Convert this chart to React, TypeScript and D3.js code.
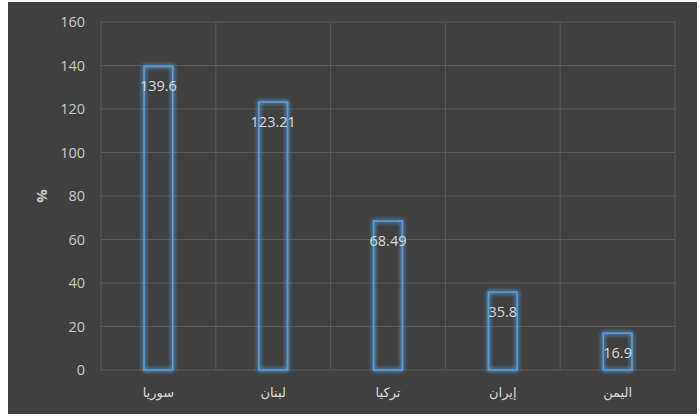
import { useEffect, useRef } from 'react';
import * as d3 from 'd3';

const countries = ['سوريا', 'لبنان', 'تركيا', 'إيران', 'اليمن'];
const values = [139.6, 123.21, 68.49, 35.8, 16.9];
const yTicks = [0, 20, 40, 60, 80, 100, 120, 140, 160];

const W = 700;
const H = 417;
const margin = { left: 101, right: 25, top: 22, bottom: 47 };
const FONT = '"Open Sans", "DejaVu Sans", sans-serif';

export default function App() {
  const svgRef = useRef<SVGSVGElement>(null);

  useEffect(() => {
    if (!svgRef.current) return;
    const svg = d3.select(svgRef.current);
    svg.selectAll('*').remove();

    const x = d3.scaleBand<string>()
      .domain(countries)
      .range([margin.left, W - margin.right])
      .paddingInner(0)
      .paddingOuter(0);
    const y = d3.scaleLinear().domain([0, 160]).range([H - margin.bottom, margin.top]);

    // glow filter
    const defs = svg.append('defs');
    const f = defs.append('filter').attr('id', 'glow').attr('x', '-50%').attr('y', '-50%').attr('width', '200%').attr('height', '200%');
    f.append('feGaussianBlur').attr('in', 'SourceGraphic').attr('stdDeviation', 2.2).attr('result', 'blur');
    const merge = f.append('feMerge');
    merge.append('feMergeNode').attr('in', 'blur');
    merge.append('feMergeNode').attr('in', 'blur');
    merge.append('feMergeNode').attr('in', 'SourceGraphic');

    // background panel
    svg.append('rect')
      .attr('x', 8).attr('y', 2)
      .attr('width', 689).attr('height', 412)
      .attr('fill', '#404040');

    // horizontal grid
    svg.append('g')
      .selectAll('line')
      .data(yTicks)
      .enter()
      .append('line')
      .attr('x1', margin.left)
      .attr('x2', W - margin.right)
      .attr('y1', (d) => y(d))
      .attr('y2', (d) => y(d))
      .attr('stroke', '#595959')
      .attr('stroke-width', 1);

    // vertical grid at band edges
    const edges = countries.map((c) => x(c) ?? 0).concat([W - margin.right]);
    svg.append('g')
      .selectAll('line')
      .data(edges)
      .enter()
      .append('line')
      .attr('x1', (d) => d)
      .attr('x2', (d) => d)
      .attr('y1', y(160))
      .attr('y2', y(0))
      .attr('stroke', '#595959')
      .attr('stroke-width', 1);

    // y tick labels
    svg.append('g')
      .selectAll('text')
      .data(yTicks)
      .enter()
      .append('text')
      .attr('x', 85)
      .attr('y', (d) => y(d))
      .attr('dy', '0.35em')
      .attr('text-anchor', 'end')
      .attr('font-family', FONT)
      .attr('font-size', 14.5)
      .attr('fill', '#c8c8c8')
      .text((d) => d);

    // y axis title
    svg.append('text')
      .attr('transform', `translate(42,${y(80)}) rotate(-90)`)
      .attr('text-anchor', 'middle')
      .attr('dy', '0.35em')
      .attr('font-family', FONT)
      .attr('font-size', 15)
      .attr('font-weight', 700)
      .attr('fill', '#c8c8c8')
      .text('%');

    const bw = x.bandwidth() * 0.25;

    // bars
    svg.append('g')
      .selectAll('rect')
      .data(values)
      .enter()
      .append('rect')
      .attr('x', (_, i) => (x(countries[i]) ?? 0) + x.bandwidth() / 2 - bw / 2)
      .attr('y', (d) => y(d))
      .attr('width', bw)
      .attr('height', (d) => y(0) - y(d))
      .attr('fill', 'none')
      .attr('stroke', '#5b9bd5')
      .attr('stroke-width', 1.6)
      .attr('filter', 'url(#glow)');

    // value labels
    svg.append('g')
      .selectAll('text')
      .data(values)
      .enter()
      .append('text')
      .attr('x', (_, i) => (x(countries[i]) ?? 0) + x.bandwidth() / 2)
      .attr('y', (d) => y(d) + 20)
      .attr('dy', '0.35em')
      .attr('text-anchor', 'middle')
      .attr('font-family', FONT)
      .attr('font-size', 14.5)
      .attr('fill', '#d9d9d9')
      .text((d) => d);

    // category labels
    svg.append('g')
      .selectAll('text')
      .data(countries)
      .enter()
      .append('text')
      .attr('x', (d) => (x(d) ?? 0) + x.bandwidth() / 2)
      .attr('y', y(0) + 22)
      .attr('dy', '0.35em')
      .attr('text-anchor', 'middle')
      .attr('font-family', FONT)
      .attr('font-size', 13)
      .attr('fill', '#d9d9d9')
      .text((d) => d);
  }, []);

  return (
    <div style={{ position: 'absolute', left: 0, top: 0 }}>
      <svg ref={svgRef} width={W} height={H} style={{ display: 'block' }} />
    </div>
  );
}
